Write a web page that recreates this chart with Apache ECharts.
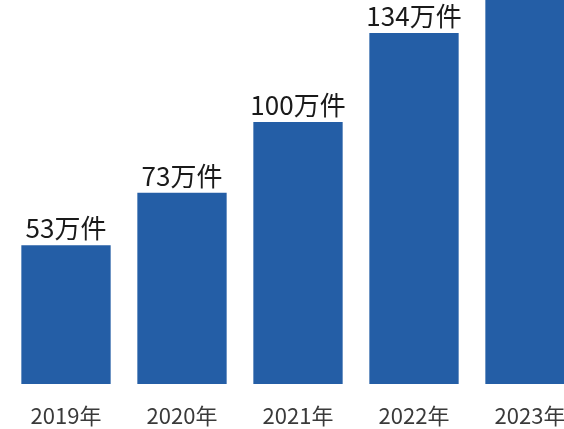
<!DOCTYPE html>
<html>
<head>
<meta charset="utf-8">
<script src="https://cdn.jsdelivr.net/npm/echarts@6/dist/echarts.min.js"></script>
<style>
  html, body { margin: 0; padding: 0; background: #fff; }
  #chart { width: 564px; height: 429px; }
</style>
</head>
<body>
<div id="chart"></div>
<script>
// 年度件数（万件）
var years = ['2019年', '2020年', '2021年', '2022年', '2023年'];
var counts = [53, 73, 100, 134, 160];   // 2023年は上端で切れているため推定
var labels = ['53万件', '73万件', '100万件', '134万件', ''];

var myChart = echarts.init(document.getElementById('chart'));

var option = {
    backgroundColor: '#ffffff',
    animation: false,
    grid: {
        left: 8,
        right: -24,
        top: 0,
        bottom: 45,
        containLabel: false,
        outerBoundsMode: 'none'
    },
    xAxis: [
        {
            type: 'category',
            data: years,
            axisLine: {show: false},
            axisTick: {show: false},
            axisLabel: {
                color: '#3a3a3a',
                fontSize: 22,
                fontFamily: 'Noto Sans CJK JP',
                margin: 21
            }
        }
    ],
    yAxis: [
        {
            type: 'value',
            min: 0,
            max: 146.6,
            show: false,
            splitLine: {show: false}
        }
    ],
    series: [
        {
            type: 'bar',
            data: counts,
            barCategoryGap: '23%',
            itemStyle: {color: '#245ea6'},
            label: {
                show: true,
                position: 'top',
                distance: 4,
                color: '#1a1a1a',
                fontSize: 26,
                fontFamily: 'Noto Sans CJK JP',
                formatter: function (p) {
                    return labels[p.dataIndex];
                }
            }
        }
    ]
};
myChart.setOption(option);
</script>
</body>
</html>
